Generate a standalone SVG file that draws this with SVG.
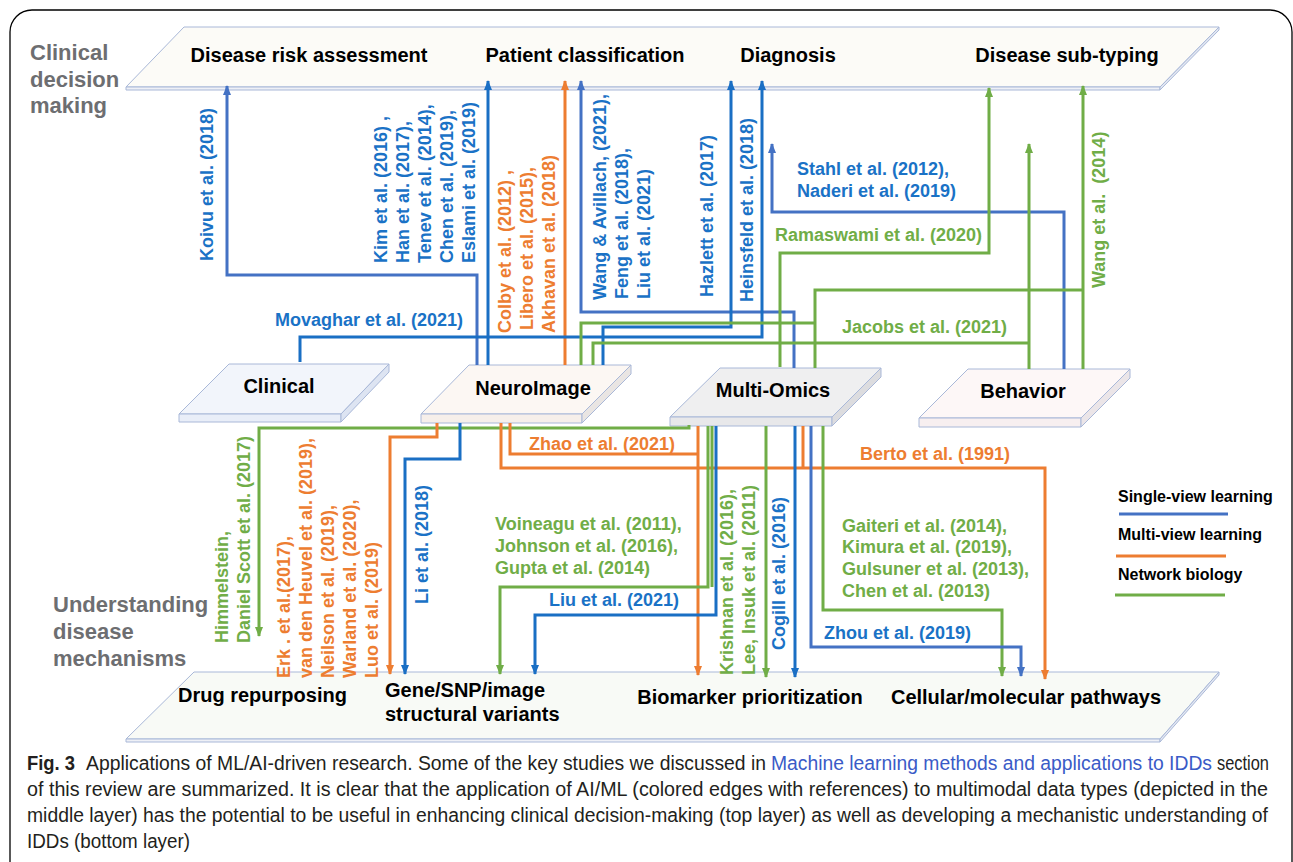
<svg xmlns="http://www.w3.org/2000/svg" width="1293" height="862" viewBox="0 0 1293 862">
<defs>
<style>
.f{font-family:"Liberation Sans",Arial,Helvetica,sans-serif;font-weight:bold}
.n{font-size:20px;fill:#000}
.r{font-size:18px}
.b{fill:#1a72c6}.o{fill:#ed7d31}.g{fill:#70ad47}
.sec{font-size:22px;fill:#6d6e71}
.lg{font-size:16px;fill:#000}
.c{fill:none;stroke-width:3}
.cbd{stroke:#1a6fc4}.cbl{stroke:#4472c4}.cor{stroke:#ed7d31}.cgr{stroke:#70ad47}
.pl{stroke:#a9b8d8;stroke-width:1}
.cap{font-family:"Liberation Sans",Arial,sans-serif;font-size:19.5px;fill:#231f20}
</style>
<marker id="mbd" markerUnits="userSpaceOnUse" markerWidth="11" markerHeight="9" refX="9" refY="4" orient="auto"><path d="M0,0 L10,4 L0,8 z" fill="#1a6fc4"/></marker>
<marker id="mbl" markerUnits="userSpaceOnUse" markerWidth="11" markerHeight="9" refX="9" refY="4" orient="auto"><path d="M0,0 L10,4 L0,8 z" fill="#4472c4"/></marker>
<marker id="mor" markerUnits="userSpaceOnUse" markerWidth="11" markerHeight="9" refX="9" refY="4" orient="auto"><path d="M0,0 L10,4 L0,8 z" fill="#ed7d31"/></marker>
<marker id="mgr" markerUnits="userSpaceOnUse" markerWidth="11" markerHeight="9" refX="9" refY="4" orient="auto"><path d="M0,0 L10,4 L0,8 z" fill="#70ad47"/></marker>
</defs>
<rect width="1293" height="862" fill="#fff"/>
<rect x="10" y="10" width="1282" height="920" rx="22" fill="none" stroke="#000" stroke-width="1.3"/>

<!-- layer titles -->
<g id="title-clinical" class="f sec">
<text x="30" y="60">Clinical</text>
<text x="30" y="86.5">decision</text>
<text x="30" y="113">making</text>
</g>
<g id="title-understanding" class="f sec">
<text x="53" y="612">Understanding</text>
<text x="53" y="639">disease</text>
<text x="53" y="666">mechanisms</text>
</g>

<!-- top layer -->
<g id="top-layer">
<polygon points="184,27 1219,27 1160,87 126,87" fill="#fcfbf7" class="pl"/>
<polygon points="126,87 1160,87 1160,90 126,90" fill="#eef0f6" class="pl"/>
<polygon points="1160,87 1219,27 1219,30 1160,90" fill="#e4e8f2" class="pl"/>
</g>
<g id="node-risk"><text class="f n" x="309" y="62" text-anchor="middle">Disease risk assessment</text></g>
<g id="node-classification"><text class="f n" x="585" y="62" text-anchor="middle">Patient classification</text></g>
<g id="node-diagnosis"><text class="f n" x="788" y="62" text-anchor="middle">Diagnosis</text></g>
<g id="node-subtyping"><text class="f n" x="1067" y="62" text-anchor="middle">Disease sub-typing</text></g>

<!-- bottom layer -->
<g id="bottom-layer">
<polygon points="194,672 1219,672 1160,739 126,739" fill="#f8faf6" class="pl"/>
<polygon points="126,739 1160,739 1160,742 126,742" fill="#eef0f6" class="pl"/>
<polygon points="1160,739 1219,672 1219,675 1160,742" fill="#e4e8f2" class="pl"/>
</g>
<g id="node-drug"><text class="f n" x="178" y="702">Drug repurposing</text></g>
<g id="node-gene"><text class="f n" x="385" y="697">Gene/SNP/image</text><text class="f n" x="385" y="721">structural variants</text></g>
<g id="node-biomarker"><text class="f n" x="750" y="704" text-anchor="middle">Biomarker prioritization</text></g>
<g id="node-pathways"><text class="f n" x="1026" y="704" text-anchor="middle">Cellular/molecular pathways</text></g>

<!-- middle data nodes -->
<g id="node-clinical">
<polygon points="229,364 389,364 341,414 179,414" fill="#f2f5fb" class="pl"/>
<polygon points="179,414 341,414 341,422 179,422" fill="#e9eef8" class="pl"/>
<polygon points="341,414 389,364 389,372 341,422" fill="#dde4f2" class="pl"/>
<text class="f n" x="279" y="393" text-anchor="middle">Clinical</text>
</g>
<g id="node-neuroimage">
<polygon points="469,365 631,365 582,414 421,414" fill="#fcf7f3" class="pl"/>
<polygon points="421,414 582,414 582,423 421,423" fill="#f6efea" class="pl"/>
<polygon points="582,414 631,365 631,374 582,423" fill="#e9e5e3" class="pl"/>
<text class="f n" x="533" y="395" text-anchor="middle">NeuroImage</text>
</g>
<g id="node-multiomics">
<polygon points="720,368 881,368 832,417 670,417" fill="#efeff0" class="pl"/>
<polygon points="670,417 832,417 832,426 670,426" fill="#e8e8ea" class="pl"/>
<polygon points="832,417 881,368 881,377 832,426" fill="#dcdcdf" class="pl"/>
<text class="f n" x="773" y="397" text-anchor="middle">Multi-Omics</text>
</g>
<g id="node-behavior">
<polygon points="968,369 1130,369 1081,418 919,418" fill="#fdf7f7" class="pl"/>
<polygon points="919,418 1081,418 1081,427 919,427" fill="#f7eff0" class="pl"/>
<polygon points="1081,418 1130,369 1130,378 1081,427" fill="#ebe5e8" class="pl"/>
<text class="f n" x="1023" y="398" text-anchor="middle">Behavior</text>
</g>

<!-- connectors -->
<g id="connectors">
<path class="c cbl" d="M477,365 V275 H227 V86" marker-end="url(#mbl)"/>
<path class="c cbd" d="M488,365 V81" marker-end="url(#mbd)"/>
<path class="c cor" d="M565,365 V81" marker-end="url(#mor)"/>
<path class="c cbl" d="M794,368 V312 H581 V81" marker-end="url(#mbl)"/>
<path class="c cbd" d="M603,365 V327 H731 V81" marker-end="url(#mbd)"/>
<path class="c cbd" d="M300,362 V337 H762 V81" marker-end="url(#mbd)"/>
<path class="c cbl" d="M1064,369 V212 H772 V144" marker-end="url(#mbl)"/>
<path class="c cgr" d="M780,367 V253 H989 V88" marker-end="url(#mgr)"/>
<path class="c cgr" d="M815,368 V290 H1083"/>
<path class="c cgr" d="M1083,369 V86" marker-end="url(#mgr)"/>
<path class="c cgr" d="M581,365 V323 H815"/>
<path class="c cgr" d="M593,365 V343 H1029"/>
<path class="c cgr" d="M1029,369 V144" marker-end="url(#mgr)"/>

<path class="c cgr" d="M689,425 V428 H259 V636" marker-end="url(#mgr)"/>
<path class="c cor" d="M437,423 V437 H390 V674" marker-end="url(#mor)"/>
<path class="c cbd" d="M460,423 V459 H405 V674" marker-end="url(#mbd)"/>
<path class="c cor" d="M510,423 V454 H698"/>
<path class="c cor" d="M698,426 V675" marker-end="url(#mor)"/>
<path class="c cor" d="M501,423 V468 H1045 V679" marker-end="url(#mor)"/>
<path class="c cor" d="M803,426 V468"/>
<path class="c cgr" d="M712,426 V587"/>
<path class="c cgr" d="M708,426 V587 H500 V674" marker-end="url(#mgr)"/>
<path class="c cbd" d="M716,426 V615 H535 V674" marker-end="url(#mbd)"/>
<path class="c cgr" d="M766,426 V677" marker-end="url(#mgr)"/>
<path class="c cbd" d="M795,426 V677" marker-end="url(#mbd)"/>
<path class="c cgr" d="M823,426 V610 H1002 V676" marker-end="url(#mgr)"/>
<path class="c cbl" d="M811,426 V647 H1021 V676" marker-end="url(#mbl)"/>
</g>

<!-- connector labels -->
<g id="edge-labels" class="f r">
<text class="b" transform="translate(213,261) rotate(-90)">Koivu et al. (2018)</text>
<text class="b" transform="translate(387,263) rotate(-90)">Kim et al. (2016) ,</text>
<text class="b" transform="translate(409,263) rotate(-90)">Han et al. (2017),</text>
<text class="b" transform="translate(431,263) rotate(-90)">Tenev et al. (2014),</text>
<text class="b" transform="translate(453,263) rotate(-90)">Chen et al. (2019),</text>
<text class="b" transform="translate(475,263) rotate(-90)">Eslami et al. (2019)</text>
<text class="o" transform="translate(511,333) rotate(-90)">Colby et al. (2012) ,</text>
<text class="o" transform="translate(533,330) rotate(-90)">Libero et al. (2015),</text>
<text class="o" transform="translate(555,333) rotate(-90)">Akhavan et al. (2018)</text>
<text class="b" transform="translate(606,300) rotate(-90)">Wang &amp; Avillach, (2021),</text>
<text class="b" transform="translate(628,299) rotate(-90)">Feng et al. (2018),</text>
<text class="b" transform="translate(650,299) rotate(-90)">Liu et al. (2021)</text>
<text class="b" transform="translate(713,297) rotate(-90)">Hazlett et al. (2017)</text>
<text class="b" transform="translate(753,302) rotate(-90)">Heinsfeld et al. (2018)</text>
<text class="g" transform="translate(1105,288) rotate(-90)" style="white-space:pre">Wang et al.  (2014)</text>
<text class="b" x="275" y="326">Movaghar et al. (2021)</text>
<text class="b" x="797" y="175">Stahl et al. (2012),</text>
<text class="b" x="797" y="197">Naderi et al. (2019)</text>
<text class="g" x="775" y="241">Ramaswami et al. (2020)</text>
<text class="g" x="842" y="333">Jacobs et al. (2021)</text>

<text class="g" transform="translate(228,643) rotate(-90)">Himmelstein,</text>
<text class="g" transform="translate(250,643) rotate(-90)">Daniel Scott et al. (2017)</text>
<text class="o" transform="translate(290,678) rotate(-90)">Erk . et al.(2017),</text>
<text class="o" transform="translate(312,678) rotate(-90)">van den Heuvel et al. (2019),</text>
<text class="o" transform="translate(334,678) rotate(-90)">Neilson et al. (2019),</text>
<text class="o" transform="translate(356,678) rotate(-90)">Warland et al. (2020),</text>
<text class="o" transform="translate(378,678) rotate(-90)">Luo et al. (2019)</text>
<text class="b" transform="translate(428,604) rotate(-90)">Li et al. (2018)</text>
<text class="o" x="529" y="450">Zhao et al. (2021)</text>
<text class="o" x="860" y="460">Berto et al. (1991)</text>
<text class="g" x="495" y="530">Voineagu et al. (2011),</text>
<text class="g" x="495" y="552">Johnson et al. (2016),</text>
<text class="g" x="495" y="574">Gupta et al. (2014)</text>
<text class="b" x="549" y="606">Liu et al. (2021)</text>
<text class="g" transform="translate(733,675) rotate(-90)">Krishnan et al. (2016),</text>
<text class="g" transform="translate(755,675) rotate(-90)">Lee, Insuk et al. (2011)</text>
<text class="b" transform="translate(785,650) rotate(-90)">Cogill et al. (2016)</text>
<text class="g" x="842" y="532">Gaiteri et al. (2014),</text>
<text class="g" x="842" y="553">Kimura et al. (2019),</text>
<text class="g" x="842" y="575">Gulsuner et al. (2013),</text>
<text class="g" x="842" y="597">Chen et al. (2013)</text>
<text class="b" x="824" y="639">Zhou et al. (2019)</text>
</g>

<!-- legend -->
<g id="legend">
<text class="f lg" x="1118" y="502">Single-view learning</text>
<line x1="1119" y1="514" x2="1228" y2="514" stroke="#4472c4" stroke-width="3"/>
<text class="f lg" x="1118" y="540">Multi-view learning</text>
<line x1="1116" y1="556" x2="1226" y2="556" stroke="#ed7d31" stroke-width="3"/>
<text class="f lg" x="1118" y="580">Network biology</text>
<line x1="1115" y1="595" x2="1225" y2="595" stroke="#70ad47" stroke-width="3"/>
</g>

<!-- caption -->
<g id="caption" class="cap">
<text x="27" y="770" font-weight="bold" textLength="48" lengthAdjust="spacingAndGlyphs">Fig. 3</text>
<text x="86" y="770" textLength="680" lengthAdjust="spacingAndGlyphs">Applications of ML/AI-driven research. Some of the key studies we discussed in</text>
<text x="771" y="770" textLength="441" lengthAdjust="spacingAndGlyphs" fill="#3a5bc7">Machine learning methods and applications to IDDs</text>
<text x="1217" y="770" textLength="52" lengthAdjust="spacingAndGlyphs">section</text>
<text x="27" y="796" textLength="1241" lengthAdjust="spacingAndGlyphs">of this review are summarized. It is clear that the application of AI/ML (colored edges with references) to multimodal data types (depicted in the</text>
<text x="27" y="822" textLength="1241" lengthAdjust="spacingAndGlyphs">middle layer) has the potential to be useful in enhancing clinical decision-making (top layer) as well as developing a mechanistic understanding of</text>
<text x="27" y="848" textLength="163" lengthAdjust="spacingAndGlyphs">IDDs (bottom layer)</text>
</g>
</svg>
